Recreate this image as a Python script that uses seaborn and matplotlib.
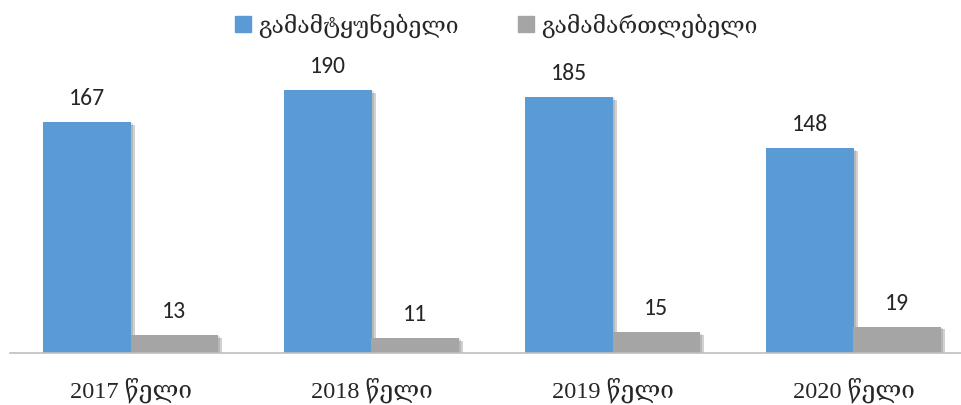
import matplotlib
matplotlib.use("Agg")
import matplotlib.pyplot as plt
import matplotlib.patheffects as pe
import seaborn as sns
import pandas as pd

years = ["2017 წელი", "2018 წელი", "2019 წელი", "2020 წელი"]
series_names = ["გამამტყუნებელი", "გამამართლებელი"]
convicting = [167, 190, 185, 148]
acquitting = [13, 11, 15, 19]
colors = ["#5B9BD5", "#A5A5A5"]

df = pd.DataFrame({
    "year": years * 2,
    "kind": [series_names[0]] * 4 + [series_names[1]] * 4,
    "value": convicting + acquitting,
})

sns.set_style("white")
W, H = 961, 406
fig = plt.figure(figsize=(W / 100, H / 100), dpi=100)
ax = fig.add_axes([10 / W, (H - 354) / H, 951 / W, 304 / H])

sns.barplot(data=df, x="year", y="value", hue="kind", palette=colors,
            width=0.722, saturation=1, ax=ax, legend=False)

# soft drop shadow to the lower right of every bar
shadow = [pe.SimplePatchShadow(offset=(3, -2), shadow_rgbFace="#000000", alpha=0.18),
          pe.SimplePatchShadow(offset=(2, -1), shadow_rgbFace="#000000", alpha=0.12),
          pe.Normal()]
for p in ax.patches:
    p.set_path_effects(shadow)
    p.set_edgecolor("none")

for cont in ax.containers:
    ax.bar_label(cont, padding=10, fontsize=17, family=["Carlito", "Liberation Sans", "DejaVu Sans"])

ax.set_xlim(-0.5, -0.5 + 951 / 241)
ax.set_ylim(0, 304 / 1.384)
ax.set_xlabel("")
ax.set_ylabel("")
ax.set_yticks([])
for s in ["left", "right", "top"]:
    ax.spines[s].set_visible(False)
ax.spines["bottom"].set_color("#BFBFBF")
ax.spines["bottom"].set_linewidth(1.2)
ax.tick_params(axis="x", length=0, pad=17)
for t in ax.get_xticklabels():
    t.set_fontsize(17.5)
    t.set_fontfamily(["Liberation Serif", "DejaVu Serif"])

handles = [plt.Rectangle((0, 0), 1, 1, color=c) for c in colors]
fig.legend(handles, series_names, loc="center", bbox_to_anchor=(0.516, 1 - 26 / H),
           ncol=2, frameon=False, handlelength=0.7, handleheight=0.7,
           handletextpad=0.3, columnspacing=2.6,
           prop={"family": ["DejaVu Serif"], "size": 16.5})

fig.savefig("out.png", dpi=100)
